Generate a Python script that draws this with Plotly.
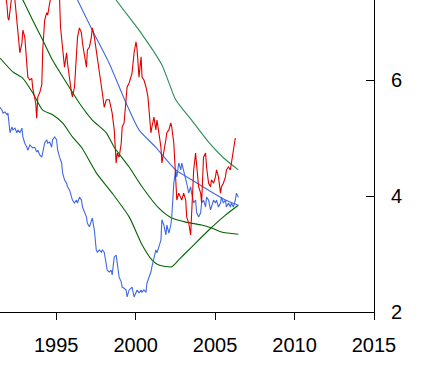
import plotly.graph_objects as go

# Red jagged series
red_x = [1991.46, 1991.77, 1991.90, 1991.96, 1992.02, 1992.09, 1992.21, 1992.34, 1992.40, 1992.52,
         1992.59, 1992.71, 1992.84, 1992.90, 1993.02, 1993.15, 1993.21, 1993.34, 1993.46, 1993.52,
         1993.65, 1993.71, 1993.77, 1993.84, 1993.96, 1994.09, 1994.15, 1994.27, 1994.40, 1994.46,
         1994.59, 1994.71, 1994.90, 1995.09, 1995.21, 1995.27, 1995.40, 1995.52, 1995.65, 1995.71,
         1995.96, 1996.02, 1996.15, 1996.27, 1996.34, 1996.46, 1996.59, 1996.65, 1996.77, 1996.90,
         1996.96, 1997.09, 1997.21, 1997.27, 1997.40, 1997.52, 1997.59, 1997.71, 1997.84, 1997.90,
         1998.02, 1998.15, 1998.34, 1998.46, 1998.52, 1998.65, 1998.71, 1998.77, 1998.84, 1998.96,
         1999.09, 1999.15, 1999.27, 1999.40, 1999.46, 1999.59, 1999.71, 1999.77, 1999.90, 2000.02,
         2000.09, 2000.21, 2000.34, 2000.40, 2000.52, 2000.65, 2000.77, 2000.90, 2000.96, 2001.02,
         2001.15, 2001.27, 2001.34, 2001.46, 2001.59, 2001.65, 2001.77, 2001.90, 2001.96, 2002.09,
         2002.21, 2002.27, 2002.40, 2002.52, 2002.59, 2002.71, 2002.84, 2002.90, 2003.02, 2003.15,
         2003.21, 2003.34, 2003.46, 2003.52, 2003.65, 2003.77, 2003.84, 2003.96, 2004.09, 2004.15,
         2004.27, 2004.40, 2004.46, 2004.59, 2004.71, 2004.77, 2004.90, 2005.02, 2005.09, 2005.21,
         2005.34, 2005.40, 2005.52, 2005.65, 2005.71, 2005.84, 2005.96, 2006.02, 2006.15, 2006.27]
red_y = [7.90, 7.55, 7.29, 7.07, 7.03, 7.21, 7.47, 7.55, 7.38, 7.03,
         6.81, 6.47, 6.64, 6.86, 6.74, 6.34, 6.05, 6.00, 6.03, 5.86,
         5.71, 5.60, 5.34, 5.71, 5.78, 5.92, 6.52, 7.03, 7.16, 7.12,
         7.33, 7.55, 7.81, 7.55, 7.38, 6.91, 6.52, 6.22, 6.47, 6.29,
         5.78, 5.71, 5.88, 6.43, 6.74, 6.90, 6.81, 6.64, 6.43, 6.22,
         6.52, 6.57, 6.74, 6.90, 6.74, 6.52, 6.34, 6.17, 5.95, 5.78,
         5.53, 5.66, 5.66, 5.53, 5.43, 5.14, 4.79, 4.57, 4.74, 4.67,
         4.91, 5.19, 5.26, 5.66, 5.88, 5.95, 6.05, 6.12, 6.47, 6.66,
         6.52, 6.05, 6.40, 6.05, 6.00, 5.88, 5.71, 5.19, 5.09, 5.19,
         5.36, 5.14, 5.31, 5.09, 4.84, 4.57, 4.74, 4.97, 5.09, 5.14,
         5.26, 5.19, 4.91, 4.24, 3.93, 4.05, 3.98, 3.93, 4.05, 3.93,
         3.64, 3.53, 3.33, 3.76, 4.45, 4.74, 4.53, 4.16, 4.05, 3.88,
         4.67, 4.74, 4.50, 4.22, 4.16, 4.28, 4.22, 4.33, 4.45, 4.33,
         4.05, 4.16, 4.22, 4.33, 4.45, 4.50, 4.45, 4.57, 4.79, 5.00]

# Blue jagged series
blue_x = [1991.46, 1991.59, 1991.65, 1991.77, 1991.90, 1991.96, 1992.09, 1992.21, 1992.27, 1992.40,
          1992.52, 1992.59, 1992.71, 1992.84, 1992.90, 1993.02, 1993.15, 1993.21, 1993.34, 1993.46,
          1993.52, 1993.65, 1993.77, 1993.84, 1993.96, 1994.09, 1994.15, 1994.27, 1994.40, 1994.46,
          1994.59, 1994.71, 1994.77, 1994.90, 1995.02, 1995.09, 1995.21, 1995.34, 1995.40, 1995.52,
          1995.65, 1995.71, 1995.84, 1996.02, 1996.15, 1996.27, 1996.34, 1996.46, 1996.59, 1996.65,
          1996.90, 1996.96, 1997.09, 1997.21, 1997.27, 1997.40, 1997.52, 1997.59, 1997.71, 1997.84,
          1997.90, 1998.02, 1998.15, 1998.21, 1998.34, 1998.46, 1998.52, 1998.65, 1998.77, 1998.84,
          1998.96, 1999.09, 1999.15, 1999.27, 1999.40, 1999.46, 1999.59, 1999.71, 1999.77, 1999.90,
          2000.02, 2000.09, 2000.21, 2000.34, 2000.40, 2000.52, 2000.65, 2000.71, 2000.84, 2000.96,
          2001.02, 2001.15, 2001.27, 2001.34, 2001.46, 2001.59, 2001.65, 2001.77, 2001.90, 2001.96,
          2002.09, 2002.21, 2002.27, 2002.40, 2002.52, 2002.59, 2002.71, 2002.84, 2002.90, 2003.02,
          2003.15, 2003.21, 2003.34, 2003.46, 2003.52, 2003.65, 2003.77, 2003.84, 2003.96, 2004.09,
          2004.15, 2004.27, 2004.40, 2004.46, 2004.59, 2004.71, 2004.77, 2004.90, 2005.02, 2005.09,
          2005.21, 2005.34, 2005.40, 2005.52, 2005.65, 2005.71, 2005.84, 2005.96, 2006.02, 2006.15,
          2006.27, 2006.34, 2006.46]
blue_y = [5.53, 5.48, 5.43, 5.45, 5.40, 5.43, 5.09, 5.19, 5.14, 5.17,
          5.09, 5.14, 5.09, 5.17, 5.02, 4.91, 4.84, 4.79, 4.88, 4.84,
          4.83, 4.84, 4.76, 4.79, 4.71, 4.67, 4.76, 4.91, 4.97, 4.91,
          4.93, 4.84, 4.97, 5.02, 4.97, 4.79, 4.67, 4.57, 4.40, 4.28,
          4.22, 4.16, 4.10, 3.93, 3.88, 3.93, 3.88, 3.98, 3.93, 3.81,
          3.64, 3.53, 3.47, 3.59, 3.62, 3.41, 3.07, 3.03, 3.07, 3.03,
          3.07, 3.03, 2.84, 2.72, 2.69, 2.72, 2.64, 2.95, 2.98, 2.84,
          2.60, 2.52, 2.43, 2.41, 2.38, 2.26, 2.38, 2.41, 2.43, 2.26,
          2.33, 2.38, 2.33, 2.38, 2.34, 2.38, 2.34, 2.50, 2.60, 2.69,
          2.78, 2.95, 3.07, 3.02, 3.12, 3.24, 3.59, 3.50, 3.33, 3.50,
          3.36, 3.50, 3.64, 4.22, 4.45, 4.33, 4.57, 4.45, 4.57, 4.45,
          4.28, 4.22, 4.05, 4.16, 4.05, 3.88, 3.93, 3.71, 3.64, 3.71,
          3.88, 3.93, 3.81, 3.98, 3.93, 3.76, 3.81, 3.93, 3.88, 3.93,
          3.81, 3.88, 3.98, 3.88, 3.93, 3.81, 3.88, 3.81, 3.88, 3.81,
          3.93, 4.05, 3.98]

# Smooth blue trend
sblue_x = [1995.84, 1996.34, 1997.27, 1998.33, 1999.40, 2000.21, 2001.27, 2002.52, 2003.52, 2004.59, 2005.65, 2006.46]
sblue_y = [7.66, 7.38, 6.86, 6.29, 5.60, 5.14, 4.84, 4.45, 4.28, 4.10, 3.93, 3.84]

# Teal trend
teal_x = [1998.02, 1998.77, 2000.21, 2001.65, 2002.52, 2003.52, 2004.59, 2005.52, 2006.46]
teal_y = [7.72, 7.38, 6.86, 6.26, 5.66, 5.31, 4.93, 4.66, 4.45]

# Dark green trend A (flattening)
ga_x = [1992.40, 1992.90, 1993.52, 1994.15, 1994.77, 1995.65, 1996.46, 1997.27, 1998.15, 1998.65,
        1999.59, 2000.40, 2001.46, 2002.27, 2003.15, 2004.15, 2004.77, 2005.40, 2006.46]
ga_y = [7.64, 7.38, 7.03, 6.69, 6.34, 5.95, 5.60, 5.31, 5.09, 4.84,
        4.50, 4.16, 3.79, 3.62, 3.55, 3.50, 3.45, 3.38, 3.34]

# Dark green trend B (dip and recovery)
gb_x = [1991.46, 1992.27, 1992.90, 1993.52, 1994.15, 1994.77, 1995.40, 1996.02, 1996.59, 1997.52,
        1998.52, 1999.59, 2000.40, 2001.02, 2001.46, 2002.27, 2002.71, 2003.52, 2004.59, 2005.65, 2006.46]
gb_y = [6.38, 6.14, 6.03, 5.78, 5.48, 5.40, 5.26, 5.02, 4.84, 4.40,
        4.05, 3.64, 3.16, 2.90, 2.81, 2.78, 2.90, 3.12, 3.41, 3.67, 3.84]

x_ticks = [1995, 2000, 2005, 2010, 2015]
y_ticks = [2, 4, 6]

RED = "#e00000"
BLUE = "#4169e1"
GREEN = "#006400"
TEAL = "#2e8b57"

fig = go.Figure()
fig.add_trace(go.Scatter(x=teal_x, y=teal_y, mode="lines", line=dict(color=TEAL, width=1.1, shape="spline", smoothing=0.6)))
fig.add_trace(go.Scatter(x=ga_x, y=ga_y, mode="lines", line=dict(color=GREEN, width=1.1, shape="spline", smoothing=0.6)))
fig.add_trace(go.Scatter(x=gb_x, y=gb_y, mode="lines", line=dict(color=GREEN, width=1.1, shape="spline", smoothing=0.6)))
fig.add_trace(go.Scatter(x=sblue_x, y=sblue_y, mode="lines", line=dict(color=BLUE, width=1.1, shape="spline", smoothing=0.6)))
fig.add_trace(go.Scatter(x=blue_x, y=blue_y, mode="lines", line=dict(color=BLUE, width=1.1)))
fig.add_trace(go.Scatter(x=red_x, y=red_y, mode="lines", line=dict(color=RED, width=1.1)))

font = dict(family="Liberation Sans, Arial, sans-serif", size=20, color="black")

fig.update_layout(
    width=421, height=379,
    margin=dict(l=0, r=47, t=0, b=67),
    paper_bgcolor="white", plot_bgcolor="white",
    showlegend=False,
    font=font,
    xaxis=dict(range=[1991.46, 2015], tickvals=x_ticks, ticktext=[str(v) for v in x_ticks],
               showgrid=False, zeroline=False, showline=True, linecolor="black", linewidth=1,
               ticks="outside", ticklen=7, tickcolor="black", tickwidth=1,
               ticklabelstandoff=8, tickfont=font),
    yaxis=dict(range=[2, 7.38], side="right", tickvals=y_ticks, ticktext=[str(v) for v in y_ticks],
               showgrid=False, zeroline=False, showline=True, linecolor="black", linewidth=1,
               ticks="inside", ticklen=8, tickcolor="black", tickwidth=1,
               ticklabelstandoff=12, tickfont=font),
)

fig.write_html("out.html", config={"displayModeBar": False},
               post_script="document.body.style.margin='0';document.body.style.overflow='hidden';")
